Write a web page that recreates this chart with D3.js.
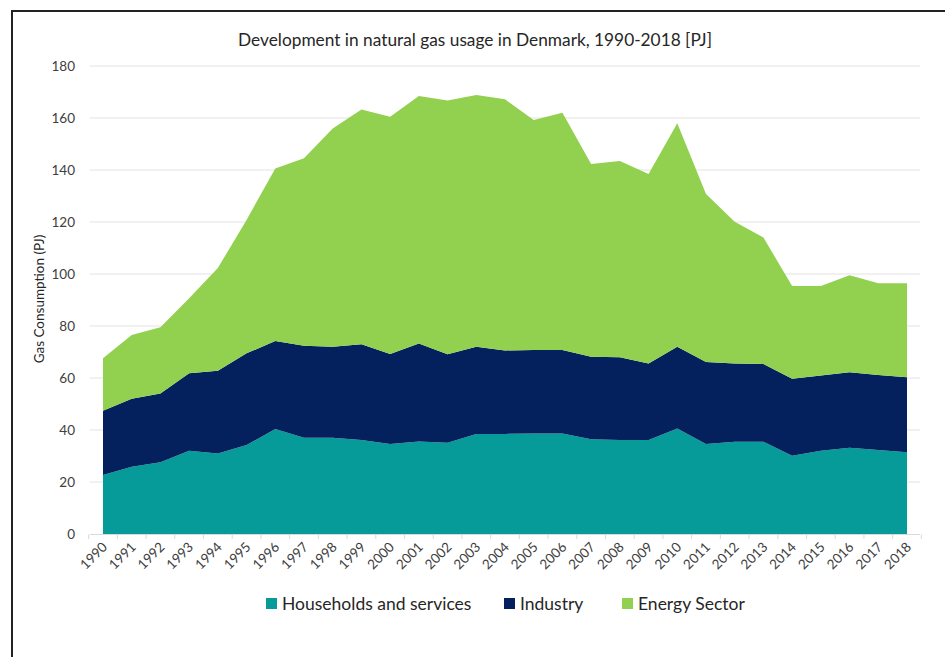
<!DOCTYPE html>
<html><head><meta charset="utf-8">
<script src="https://cdn.jsdelivr.net/npm/d3@7"></script>
<style>body{margin:0;background:#fff}svg{display:block}</style>
</head><body>
<svg id="c" width="945" height="657"></svg>
<script>
const years = d3.range(1990, 2019);
const households = [22.7,25.9,27.6,32,31,34.2,40.4,37,37,36.2,34.6,35.6,35.1,38.5,38.5,38.7,38.7,36.4,36.2,36.2,40.6,34.6,35.5,35.5,30.1,32,33.2,32.3,31.4];
const cumIndustry = [47.4,52,54,61.8,62.8,69.5,74.2,72.4,72,73,69.2,73.3,69.1,72,70.6,70.8,70.8,68.2,68,65.6,72,66.2,65.6,65.4,59.7,61,62.2,61.2,60.3];
const totals = [67.6,76.5,79.5,90.7,102.3,120.8,140.6,144.5,156,163.3,160.5,168.5,166.7,168.8,167.2,159.2,162,142.3,143.5,138.5,158,130.8,120.1,114,95.4,95.4,99.5,96.4,96.4];
const industry = cumIndustry.map((v,i)=>+(v-households[i]).toFixed(1));
const energy = totals.map((v,i)=>+(v-cumIndustry[i]).toFixed(1));
const seriesNames = ["Households and services","Industry","Energy Sector"];
const colors = ["#069a99","#04215d","#92d050"];
const yTicks = [0,20,40,60,80,100,120,140,160,180];

const rows = years.map((y,i)=>({year:y, "Households and services":households[i], "Industry":industry[i], "Energy Sector":energy[i]}));
const stack = d3.stack().keys(seriesNames)(rows);

const svg = d3.select("#c");
const font = "Lato, 'Open Sans', sans-serif";
// frame
svg.append("path").attr("d","M12,700 L12,11 L960,11").attr("fill","none").attr("stroke","#222").attr("stroke-width",2);

const x = d3.scaleLinear().domain([1990,2018]).range([103,907]);
const y = d3.scaleLinear().domain([0,180]).range([534,66]);

// gridlines
svg.append("g").selectAll("line").data(yTicks.filter(d=>d>0)).join("line")
  .attr("x1",90).attr("x2",920).attr("y1",d=>y(d)).attr("y2",d=>y(d))
  .attr("stroke","#e3e3e3").attr("stroke-width",1.2);

const area = d3.area().x(d=>x(d.data.year)).y0(d=>y(d[0])).y1(d=>y(d[1]));
svg.append("g").selectAll("path").data(stack).join("path")
  .attr("d",area).attr("fill",(d,i)=>colors[i]);

// x axis baseline
svg.append("line").attr("x1",90).attr("x2",920).attr("y1",534.5).attr("y2",534.5).attr("stroke","#d9d9d9");
const tickPos = d3.range(1989.5, 2019, 1);
svg.append("g").selectAll("line").data(tickPos).join("line")
  .attr("x1",d=>x(d)).attr("x2",d=>x(d)).attr("y1",534.5).attr("y2",539).attr("stroke","#d9d9d9");

// y labels
svg.append("g").selectAll("text").data(yTicks).join("text")
  .attr("x",75).attr("y",d=>y(d)+5).attr("text-anchor","end")
  .attr("font-family",font).attr("font-size",13.5).attr("fill","#404040").text(d=>d);

// x labels
svg.append("g").selectAll("text").data(years).join("text")
  .attr("transform",d=>`translate(${x(d)+5},${548}) rotate(-45)`)
  .attr("text-anchor","end").attr("font-family",font).attr("font-size",13.5).attr("fill","#404040").text(d=>d);

// title
svg.append("text").attr("x",475).attr("y",46).attr("text-anchor","middle")
  .attr("font-family",font).attr("font-size",17.3).attr("fill","#262626")
  .text("Development in natural gas usage in Denmark, 1990-2018 [PJ]");

// y title
svg.append("text").attr("transform","translate(44,299) rotate(-90)").attr("text-anchor","middle")
  .attr("font-family",font).attr("font-size",13.5).attr("fill","#262626").text("Gas Consumption (PJ)");

// legend
const legX = [266,504,622];
const lg = svg.append("g").selectAll("g").data(seriesNames).join("g")
  .attr("transform",(d,i)=>`translate(${legX[i]},598)`);
lg.append("rect").attr("width",11).attr("height",11).attr("fill",(d,i)=>colors[i]);
lg.append("text").attr("x",16).attr("y",11.5).attr("font-family",font).attr("font-size",17.5).attr("fill","#262626").text(d=>d);
</script>
</body></html>
